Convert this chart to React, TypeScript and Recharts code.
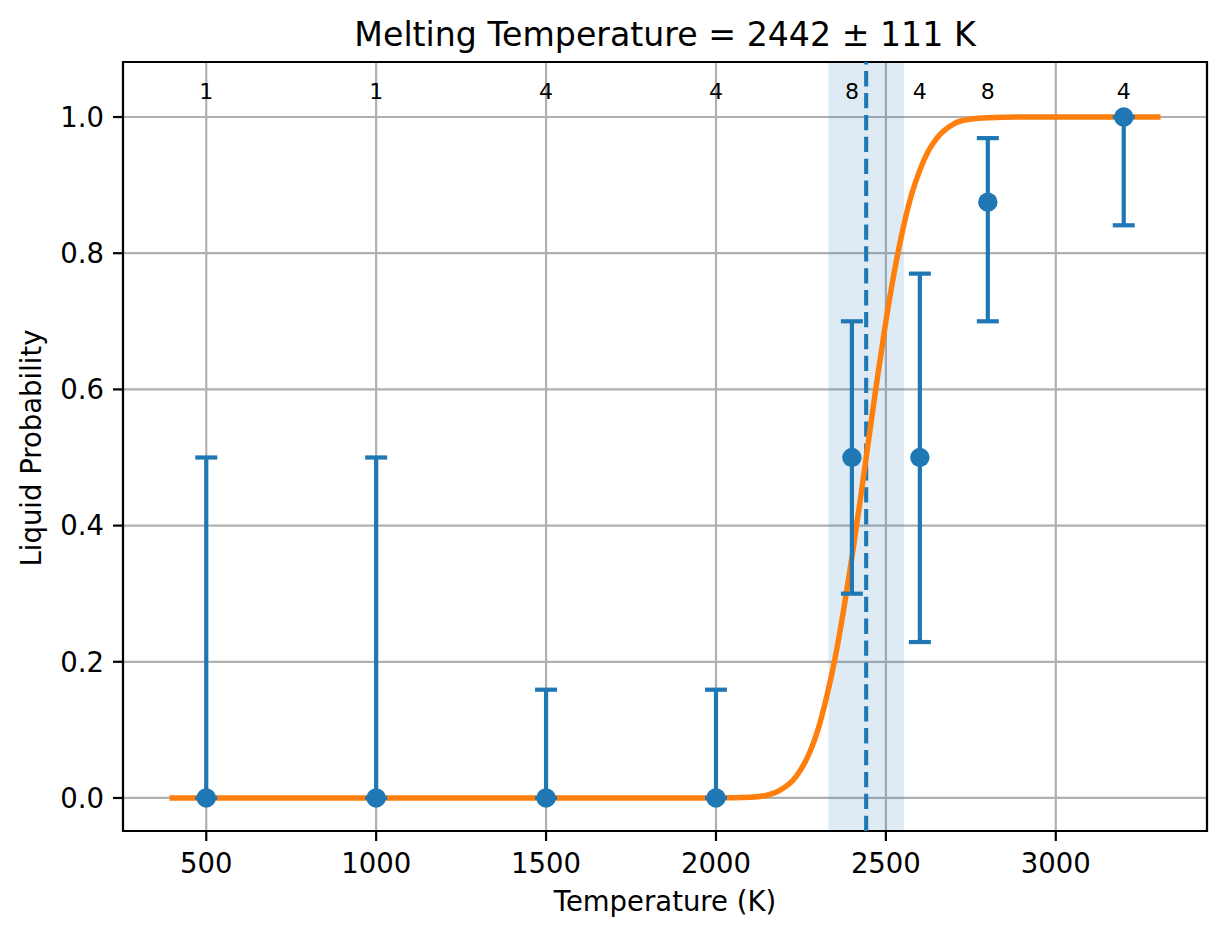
import React from "react";
import {
  ComposedChart,
  Line,
  Scatter,
  ErrorBar,
  XAxis,
  YAxis,
  CartesianGrid,
  ReferenceArea,
  ReferenceLine,
} from "recharts";

// measured points (temperature, liquid fraction) with lower/upper bounds
const temps = [500, 1000, 1500, 2000, 2400, 2600, 2800, 3200];
const probs = [0, 0, 0, 0, 0.5, 0.5, 0.875, 1.0];
const lower = [0, 0, 0, 0, 0.3, 0.229, 0.7, 0.841];
const upper = [0.5, 0.5, 0.159, 0.159, 0.7, 0.77, 0.969, 1.0];
const counts = [1, 1, 4, 4, 8, 4, 8, 4];

// fitted curve
const curveT = [
  400, 1800, 1950, 2050, 2100, 2150, 2175, 2200, 2225, 2250, 2275, 2300, 2325, 2350, 2375, 2400,
  2425, 2442, 2450, 2475, 2500, 2525, 2550, 2575, 2600, 2625, 2650, 2700, 2750, 2800, 2900, 3300,
];
const curveP = [
  0, 0, 0, 0.0002, 0.001, 0.004, 0.008, 0.015, 0.025, 0.042, 0.066, 0.1, 0.147, 0.204, 0.274, 0.353,
  0.439, 0.5, 0.529, 0.617, 0.7, 0.773, 0.835, 0.885, 0.922, 0.95, 0.969, 0.99, 0.997, 0.999, 1.0, 1.0,
];

const meltT = 2442;
const meltErr = 111;

const xTicks = [500, 1000, 1500, 2000, 2500, 3000];
const yTicks = [0, 0.2, 0.4, 0.6, 0.8, 1.0];

const X_DOMAIN: [number, number] = [255, 3445];
const Y_DOMAIN: [number, number] = [-0.0485, 1.0808];
const LABEL_Y = 1.038;

const BLUE = "#1f77b4";
const ORANGE = "#ff7f0e";
const FONT = "DejaVu Sans, sans-serif";

const points = temps.map((t, i) => ({
  t,
  p: probs[i],
  err: [probs[i] - lower[i], upper[i] - probs[i]],
}));
const curve = curveT.map((t, i) => ({ t, p: curveP[i] }));
const countLabels = temps.map((t, i) => ({ t, p: LABEL_Y, n: counts[i] }));

const W = 1227;
const H = 939;

export default function App() {
  return (
    <div style={{ position: "absolute", left: 0, top: 0, width: W, height: H, background: "#fff", fontFamily: FONT }}>
      <ComposedChart width={W} height={H} margin={{ top: 62, right: 20, bottom: 0, left: 0 }}>
        <CartesianGrid stroke="#b0b0b0" strokeWidth={2.2} />
        <ReferenceArea
          x1={meltT - meltErr}
          x2={meltT + meltErr}
          fill={BLUE}
          fillOpacity={0.15}
          stroke="none"
          ifOverflow="visible"
        />
        <XAxis
          type="number"
          dataKey="t"
          domain={X_DOMAIN}
          allowDataOverflow
          ticks={xTicks}
          height={108}
          tickSize={10}
          tickMargin={12}
          axisLine={false}
          tickLine={{ stroke: "#000", strokeWidth: 2.2 }}
          tick={{ fontSize: 27.5, fill: "#000", fontFamily: FONT }}
        />
        <YAxis
          type="number"
          domain={Y_DOMAIN}
          allowDataOverflow
          ticks={yTicks}
          width={123}
          tickSize={10}
          tickMargin={9}
          axisLine={false}
          tickLine={{ stroke: "#000", strokeWidth: 2.2 }}
          tick={{ fontSize: 27.5, fill: "#000", fontFamily: FONT }}
          tickFormatter={(v: number) => v.toFixed(1)}
        />
        <ReferenceLine x={meltT} stroke={BLUE} strokeWidth={4.1} strokeDasharray="15.3 6.6" />
        <Line
          data={curve}
          dataKey="p"
          type="monotone"
          stroke={ORANGE}
          strokeWidth={5.5}
          strokeLinecap="square"
          dot={false}
          activeDot={false}
          isAnimationActive={false}
        />
        <Scatter
          data={points}
          dataKey="p"
          isAnimationActive={false}
          shape={(p: any) => <circle cx={p.cx} cy={p.cy} r={9.7} fill={BLUE} />}
        >
          <ErrorBar dataKey="err" direction="y" width={11} stroke={BLUE} strokeWidth={4.2} />
        </Scatter>
        <Scatter
          data={countLabels}
          dataKey="p"
          isAnimationActive={false}
          shape={(p: any) => (
            <text x={p.cx} y={p.cy + 8} textAnchor="middle" fontSize={22} fontFamily={FONT} fill="#000">
              {p.payload.n}
            </text>
          )}
        />
        <ReferenceArea
          x1={X_DOMAIN[0]}
          x2={X_DOMAIN[1]}
          y1={Y_DOMAIN[0]}
          y2={Y_DOMAIN[1]}
          fill="none"
          stroke="#000"
          strokeWidth={2.2}
          ifOverflow="visible"
        />
      </ComposedChart>
      <svg width={W} height={H} style={{ position: "absolute", left: 0, top: 0, pointerEvents: "none" }}>
        <text x={665} y={46} textAnchor="middle" fontSize={33.2} fontFamily={FONT} fill="#000">
          Melting Temperature = {meltT} ± {meltErr} K
        </text>
        <text x={665} y={911} textAnchor="middle" fontSize={27.5} fontFamily={FONT} fill="#000">
          Temperature (K)
        </text>
        <text
          x={41}
          y={448}
          textAnchor="middle"
          fontSize={27.5}
          fontFamily={FONT}
          fill="#000"
          transform="rotate(-90 41 448)"
        >
          Liquid Probability
        </text>
      </svg>
    </div>
  );
}
